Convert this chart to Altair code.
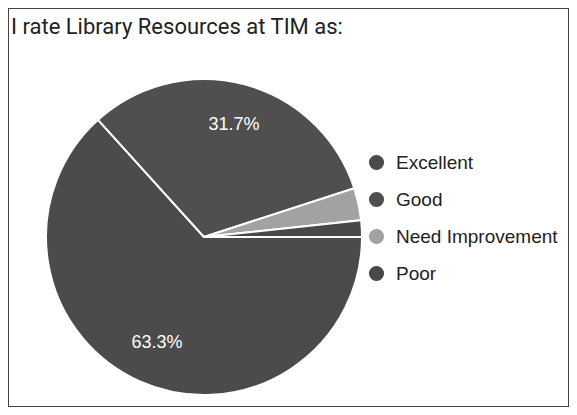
import math
import altair as alt
import pandas as pd

title_text = "I rate Library Resources at TIM as:"
categories = ["Excellent", "Good", "Need Improvement", "Poor"]
percents = [63.3, 31.7, 3.3, 1.7]
colors = ["#4b4b4b", "#4f4f4f", "#a2a2a2", "#484848"]

df = pd.DataFrame({
    "answer": categories,
    "pct": percents,
    "ord": list(range(len(categories))),
})

CX, CY, R = 196, 229, 158
start = math.pi / 2

theta = alt.Theta("pct:Q", stack=True,
                  scale=alt.Scale(range=[start, start + 2 * math.pi]))
order = alt.Order("ord:Q", sort="ascending")

base = alt.Chart(df).transform_calculate(
    label="datum.pct > 5 ? format(datum.pct, '.1f') + '%' : ''"
)

arcs = base.mark_arc(stroke="white", strokeWidth=2, radius=R).encode(
    theta=theta,
    order=order,
    x=alt.value(CX),
    y=alt.value(CY),
    color=alt.Color(
        "answer:N",
        sort=categories,
        scale=alt.Scale(domain=categories, range=colors),
        legend=alt.Legend(
            title=None,
            orient="none",
            legendX=359,
            legendY=145,
            symbolType="circle",
            symbolSize=230,
            symbolStrokeWidth=0,
            labelFont="Liberation Sans",
            labelFontSize=19,
            labelColor="#222",
            labelOffset=10,
            labelLimit=400,
            rowPadding=17,
            padding=0,
        ),
    ),
)

labels = base.mark_text(
    radius=116, font="Liberation Sans", fontSize=18, color="white"
).encode(
    theta=theta,
    order=order,
    x=alt.value(CX),
    y=alt.value(CY),
    text="label:N",
)

chart = alt.layer(arcs, labels).properties(
    width=561,
    height=399,
    padding=0,
    autosize=alt.AutoSizeParams(type="none"),
    background="white",
    title=alt.TitleParams(
        title_text,
        anchor="start",
        frame="group",
        offset=-31,
        dx=3,
        font="Roboto",
        fontSize=22,
        fontWeight="normal",
        color="#222",
    ),
).configure_view(stroke="#444", strokeWidth=2)

chart.save("out.html", embed_options={"renderer": "svg", "actions": False})
